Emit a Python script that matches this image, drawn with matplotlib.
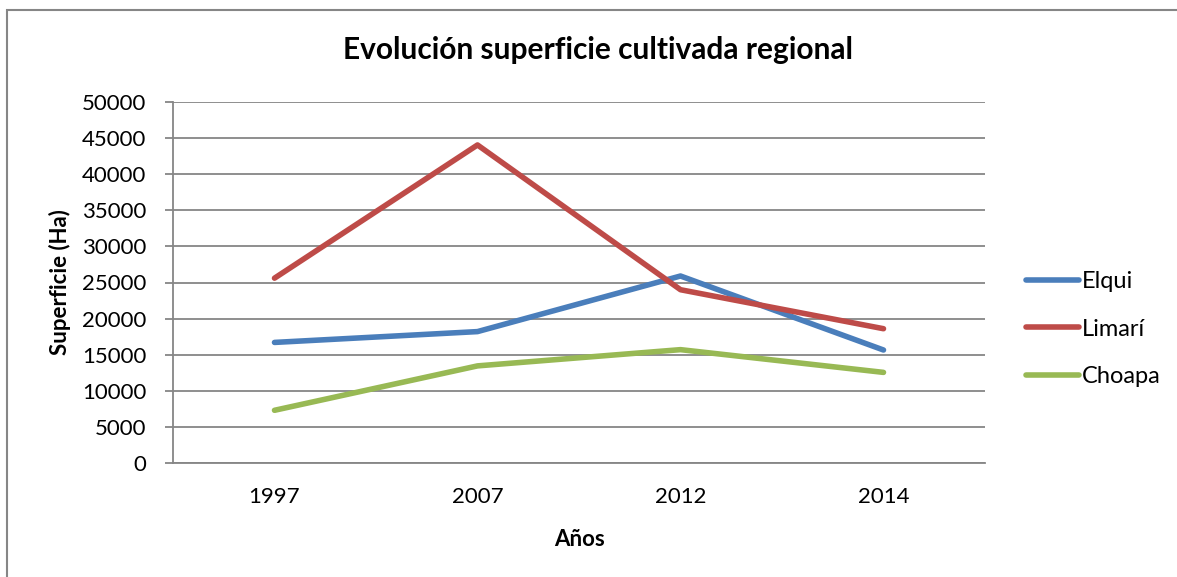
import matplotlib.pyplot as plt
from matplotlib.patches import Rectangle

plt.rcParams['font.family'] = ['Lato', 'DejaVu Sans']

anios = ['1997', '2007', '2012', '2014']
elqui = [16700, 18200, 25900, 15650]
limari = [25600, 44050, 24000, 18600]
choapa = [7300, 13450, 15700, 12550]

W, H = 1177, 577
fig = plt.figure(figsize=(W / 100, H / 100), dpi=100)
# marco gris del grafico (sale por la derecha y por abajo)
fig.add_artist(Rectangle((7 / W, -0.1), 1.2, 1 - 10 / H + 0.1, fill=False,
                         edgecolor='#868686', linewidth=1.5, transform=fig.transFigure))

ax = fig.add_axes([173 / W, (H - 463) / H, 812 / W, 361 / H])
x = range(len(anios))
lw = 4
ax.plot(x, elqui, color='#4A7EBB', lw=lw, label='Elqui', solid_capstyle='round')
ax.plot(x, limari, color='#BE4B48', lw=lw, label='Limarí', solid_capstyle='round')
ax.plot(x, choapa, color='#98B954', lw=lw, label='Choapa', solid_capstyle='round')

ax.set_xlim(-0.5, 3.5)
ax.set_ylim(0, 50000)
ax.set_yticks(range(0, 50001, 5000))
ax.set_xticks(list(x))
ax.set_xticklabels(anios)
ax.yaxis.grid(True, color='#868686', lw=1.3)
ax.set_axisbelow(True)
for s in ['top', 'right']:
    ax.spines[s].set_visible(False)
for s in ['left', 'bottom']:
    ax.spines[s].set_color('#868686')
    ax.spines[s].set_linewidth(1.3)
ax.tick_params(axis='y', length=6, width=1.3, color='#868686', labelsize=16, pad=13)
ax.tick_params(axis='x', length=0, labelsize=16, pad=17)

ax.set_xlabel('Años', fontsize=16, fontweight='bold', labelpad=16)
ax.set_ylabel('Superficie (Ha)', fontsize=16, fontweight='bold', labelpad=8)
fig.text(598 / W, 1 - 50 / H, 'Evolución superficie cultivada regional',
         ha='center', va='center', fontsize=21.5, fontweight='bold')

fig.legend(loc='center left', bbox_to_anchor=(1005 / W, 1 - 329 / H), frameon=False,
           fontsize=17, handlelength=2.25, handletextpad=0.12, labelspacing=1.12)

fig.savefig('out.png', dpi=100)
